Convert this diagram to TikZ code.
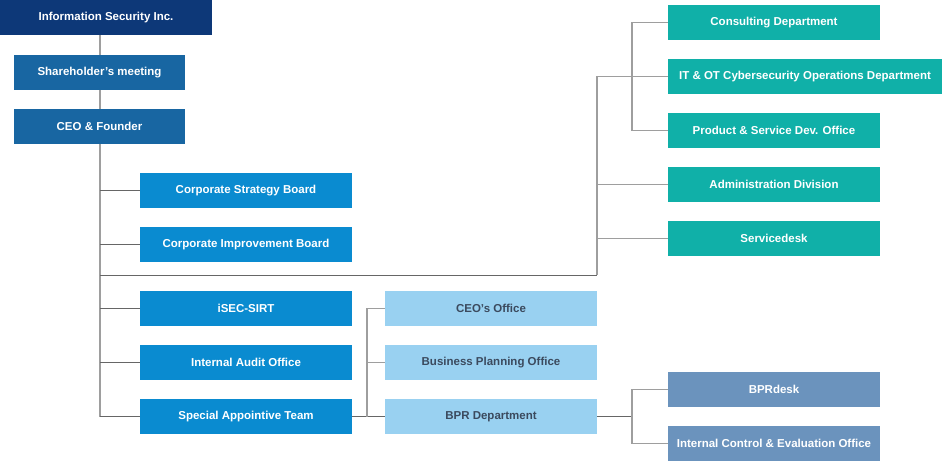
\documentclass[tikz,border=0pt]{standalone}
\usepackage{fontspec}
\setmainfont{Liberation Sans}
\usetikzlibrary{positioning}
\usetikzlibrary{calc}

\definecolor{navy}{HTML}{0D3878}
\definecolor{steel}{HTML}{1866A2}
\definecolor{azure}{HTML}{0A8BD0}
\definecolor{sky}{HTML}{99D1F1}
\definecolor{teal}{HTML}{10B0A8}
\definecolor{slate}{HTML}{6B93BD}
\definecolor{ink}{HTML}{3B4A5E}

\begin{document}
\begin{tikzpicture}[x=1pt,y=-1pt,node distance=54pt,
					font=\bfseries\fontsize{11.5}{13}\selectfont]
					\tikzstyle{unit}=[rectangle,inner sep=0pt,minimum height=35pt,minimum width=212pt,text=white]
					\tikzstyle{trunk}=[draw=black!38,line width=1.5pt]
					\tikzstyle{link}=[draw=black!60,line width=0.9pt]
					
					\useasboundingbox[fill=white] (0,0) rectangle (942,461);
					
					\node[unit,fill=navy]          (isi)   at (106,17.5)      {Information Security Inc.};
					\node[unit,fill=steel,minimum width=171pt] (share) at (99.5,72.5) {Shareholder’s meeting};
					\node[unit,fill=steel,minimum width=171pt] (ceo) [below of=share] {CEO \& Founder};
					
					\node[unit,fill=azure]         (csb)   at (246,190.5)     {Corporate Strategy Board};
					\node[unit,fill=azure]         (cib)   [below of=csb]     {Corporate Improvement Board};
					\node[unit,fill=azure]         (sirt)  at (246,308.5)     {iSEC-SIRT};
					\node[unit,fill=azure]         (audit) [below of=sirt]    {Internal Audit Office};
					\node[unit,fill=azure]         (sat)   [below of=audit]   {Special Appointive Team};
					
					\node[unit,fill=sky,text=ink]  (office) at (491,308.5)    {CEO’s Office};
					\node[unit,fill=sky,text=ink]  (bpo)   [below of=office]  {Business Planning Office};
					\node[unit,fill=sky,text=ink]  (bpr)   [below of=bpo]     {BPR Department};
					
					\node[unit,fill=teal]          (consult) at (774,22.5)    {Consulting Department};
					\node[unit,fill=teal,minimum width=274pt] (itot) at (805,76.5) {IT \& OT Cybersecurity Operations Department};
					\node[unit,fill=teal]          (psdo)  at (774,130.5)     {Product \& Service Dev. Office};
					\node[unit,fill=teal]          (admin) [below of=psdo]    {Administration Division};
					\node[unit,fill=teal]          (desk)  [below of=admin]   {Servicedesk};
					
					\node[unit,fill=slate]         (bprdesk) at (774,389.5)   {BPRdesk};
					\node[unit,fill=slate]         (icev)  [below of=bprdesk] {Internal Control \& Evaluation Office};
					
					% connector points
					\coordinate (spine) at (100,416.5);
					\coordinate (tee)   at (100,275);
					\coordinate (rise)  at (597,275);
					\coordinate (rb)    at (632,0);
					\coordinate (lb)    at (367,0);
					
					\draw[trunk] (spine |- isi.south) -- (spine |- share.north);
					\draw[trunk] (spine |- share.south) -- (spine |- ceo.north);
					\draw[trunk] (spine |- ceo.south) -- (spine);
					\foreach \n in {csb,cib,sirt,audit,sat}
						\draw[link] (spine |- \n.west) -- (\n.west);
					\draw[link] (tee) -- (rise);
					\draw[trunk] (rise) -- (rise |- itot.west) -- (itot.west);
					\foreach \n in {admin,desk}
						\draw[trunk] (rise |- \n.west) -- (\n.west);
					\draw[trunk] (consult.west) -- (rb |- consult.west) -- (rb |- psdo.west) -- (psdo.west);
					
					\draw[link] (sat.east) -- (bpr.west);
					\draw[trunk] (office.west) -- (lb |- office.west) -- (lb |- bpr.west);
					\draw[trunk] (lb |- bpo.west) -- (bpo.west);
					\draw[link] (bpr.east) -- (rb |- bpr.east);
					\draw[trunk] (bprdesk.west) -- (rb |- bprdesk.west) -- (rb |- icev.west) -- (icev.west);
\end{tikzpicture}
\end{document}
